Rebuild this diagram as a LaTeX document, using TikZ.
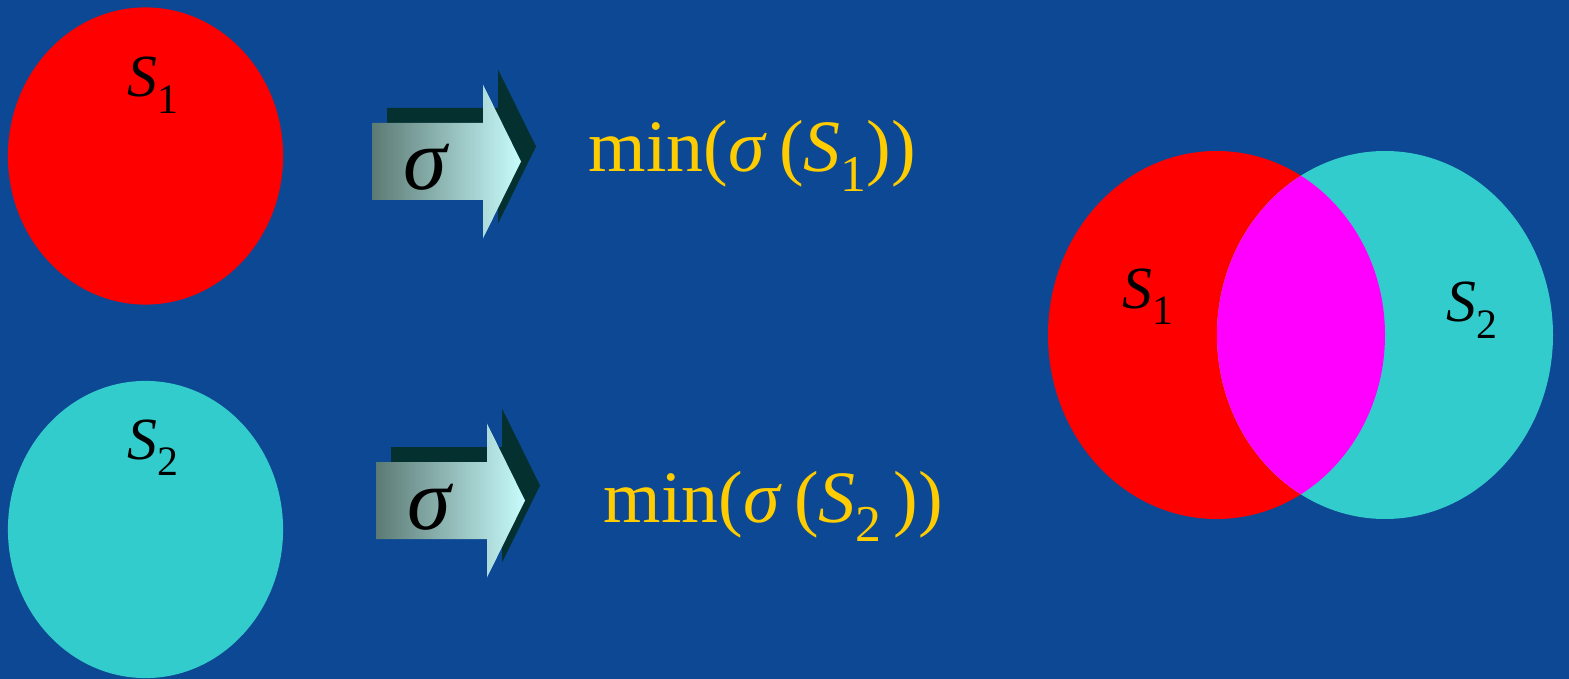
\documentclass[tikz,border=0pt]{standalone}
\usepackage{fontspec}
\setmainfont{Liberation Serif}
\usetikzlibrary{shapes.geometric}

\definecolor{bgblue}{RGB}{13,72,148}
\definecolor{setred}{RGB}{255,0,0}
\definecolor{setcyan}{RGB}{51,204,204}
\definecolor{setmagenta}{RGB}{255,0,255}
\definecolor{mingold}{RGB}{255,204,0}
\definecolor{arrowshadow}{RGB}{4,48,48}
\definecolor{arrowleft}{RGB}{92,122,116}
\definecolor{arrowright}{RGB}{200,252,252}

\newcommand{\Sset}[1]{\textit{S}\raisebox{-0.27em}{\scalebox{0.7}{#1}}}

\begin{document}
\begin{tikzpicture}[x=0.01cm,y=-0.01cm,
  setnode/.style={ellipse,inner sep=0pt,minimum width=2.75cm,minimum height=2.97cm},
  setlabel/.style={anchor=base west,inner sep=0pt,font=\fontsize{17}{20}\selectfont},
  mintext/.style={anchor=base west,inner sep=0pt,text=mingold,font=\fontsize{21}{25}\selectfont},
  sigarrow/.pic={
    \fill[arrowshadow] (15,-15) -- (126,-15) -- (126,-53.5) -- (164,23.5)
      -- (126,100.5) -- (126,62) -- (15,62) -- cycle;
    \shade[left color=arrowleft,right color=arrowright] (0,0) -- (111,0) -- (111,-38.5)
      -- (149,38.5) -- (111,115.5) -- (111,77) -- (0,77) -- cycle;
    \node[anchor=base west,inner sep=0pt,font=\fontsize{25}{30}\selectfont] (sig) at (31,67) {\textit{σ}};
  }]
\useasboundingbox (0,0) rectangle (1569,679);
\fill[bgblue] (0,0) rectangle (1569,679);

% the two sets
\node[setnode,fill=setred] (s1) at (145.5,156) {};
\node[setnode,fill=setcyan] (s2) at (145.5,529.5) {};
\node[setlabel] (s1lab) at (127,97) {\Sset{1}};
\node[setlabel] (s2lab) at (127,459) {\Sset{2}};

% sigma arrows
\pic (arrA) at (372,123) {sigarrow};
\pic (arrB) at (376,462) {sigarrow};
\node[mintext] (minA) at (588,172) {min(\textit{σ}\,(\Sset{1}))};
\node[mintext] (minB) at (603,522) {min(\textit{σ}\,(\Sset{2}\,))};

% union of the sets
\fill[setred] (1216.5,335) ellipse [x radius=168.5,y radius=184];
\fill[setcyan] (1385,335) ellipse [x radius=168,y radius=184];
\begin{scope}
  \clip (1216.5,335) ellipse [x radius=168.5,y radius=184];
  \fill[setmagenta] (1385,335) ellipse [x radius=168,y radius=184];
\end{scope}
\node[setlabel] (u1lab) at (1122,308) {\Sset{1}};
\node[setlabel] (u2lab) at (1446,322) {\Sset{2}};
\end{tikzpicture}
\end{document}
